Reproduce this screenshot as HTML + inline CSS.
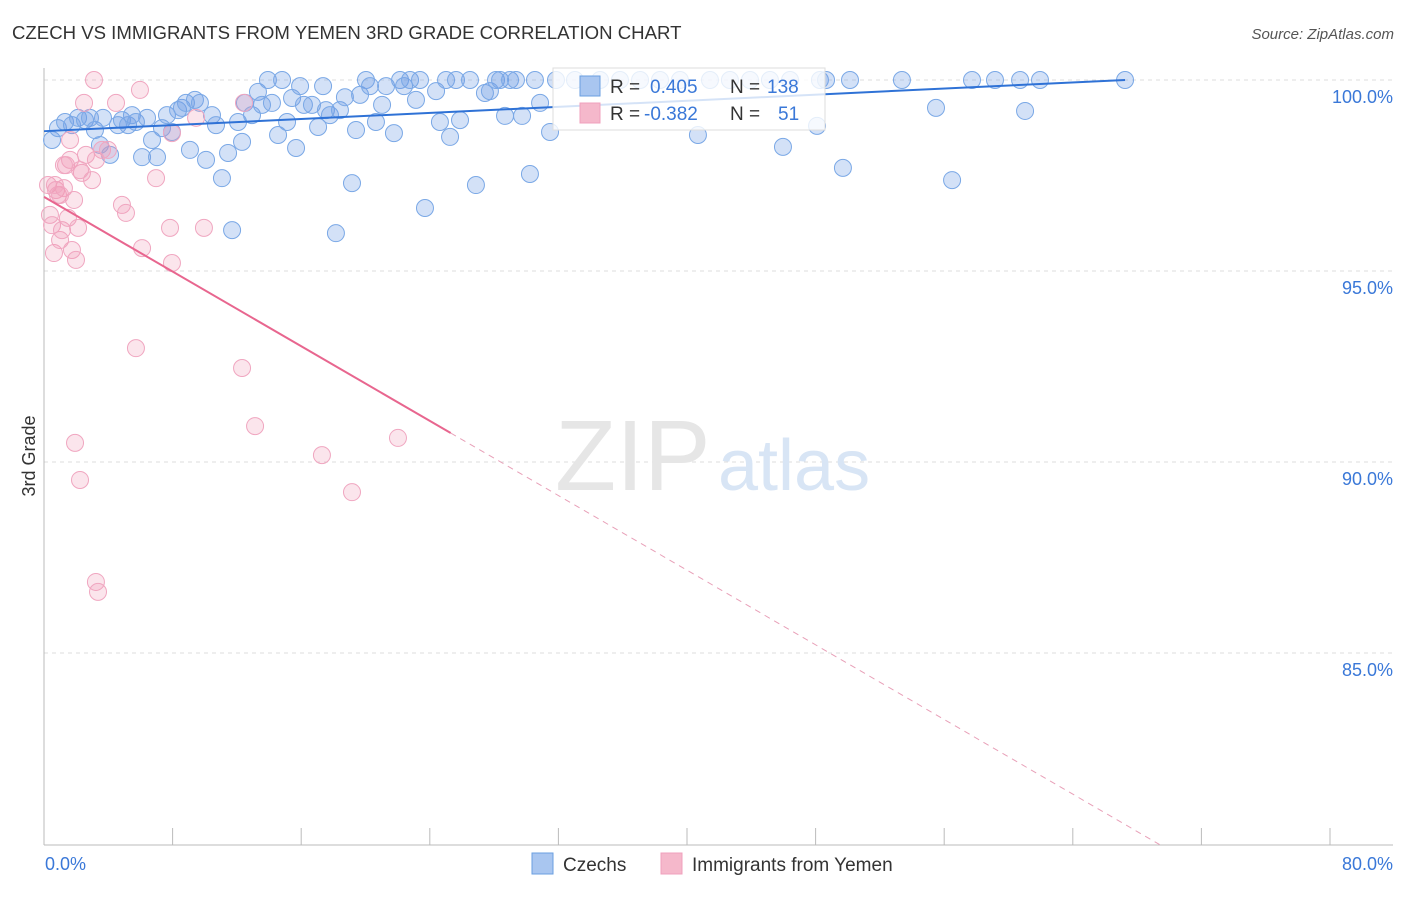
<!DOCTYPE html>
<html><head><meta charset="utf-8"><style>
body{margin:0;background:#fff;font-family:"Liberation Sans",sans-serif;}
svg text{font-family:"Liberation Sans",sans-serif;}
</style></head><body>
<svg width="1406" height="892">
<text x="12" y="39" font-size="18.6" fill="#333">CZECH VS IMMIGRANTS FROM YEMEN 3RD GRADE CORRELATION CHART</text>
<text x="1394" y="39" font-size="15" fill="#555" font-style="italic" text-anchor="end">Source: ZipAtlas.com</text>
<text x="35" y="456" font-size="18" fill="#333" transform="rotate(-90 35 456)" text-anchor="middle">3rd Grade</text>
<g id="grid"></g>
<text x="555" y="490" font-size="100" fill="#e6e6e6" font-family="Liberation Serif">ZIP</text>
<text x="718" y="490" font-size="72" fill="#d8e5f5">atlas</text>
<g id="pts"></g>
<g id="lines"></g>
<g>
<rect x="553" y="68" width="272" height="62" fill="#fff" fill-opacity="0.8" stroke="#ddd"/>
<rect x="580" y="76" width="20" height="20" fill="#a9c6f0" stroke="#6a9fe0"/>
<rect x="580" y="103" width="20" height="20" fill="#f5b8cb" stroke="#f0a0bc"/>
<text x="610" y="93" font-size="19" fill="#333">R = </text><text x="650" y="93" font-size="19" fill="#3a78d8">0.405</text>
<text x="730" y="93" font-size="19" fill="#333">N = </text><text x="767" y="93" font-size="19" fill="#3a78d8">138</text>
<text x="610" y="120" font-size="19" fill="#333">R = </text><text x="644" y="120" font-size="19" fill="#3a78d8">-0.382</text>
<text x="730" y="120" font-size="19" fill="#333">N = </text><text x="778" y="120" font-size="19" fill="#3a78d8">51</text>
</g>
<g>
<rect x="532" y="853" width="21" height="21" fill="#a9c6f0" stroke="#6a9fe0"/>
<text x="563" y="871" font-size="19" fill="#333">Czechs</text>
<rect x="661" y="853" width="21" height="21" fill="#f5b8cb" stroke="#f0a0bc"/>
<text x="692" y="871" font-size="19" fill="#333">Immigrants from Yemen</text>
</g>
</svg>
<script>
const yTicks=[100,95,90,85];
const xTickLabels=["0.0%","80.0%"];
const bluePx=[[52,140],[58,128],[65,122],[72,125],[78,118],[85,120],[90,118],[95,130],[100,145],[103,118],[110,155],[118,125],[122,120],[128,125],[132,115],[136,122],[142,157],[147,118],[152,140],[157,157],[162,128],[167,115],[172,132],[178,110],[182,108],[186,103],[190,150],[195,100],[200,103],[206,160],[212,115],[216,125],[222,178],[228,153],[232,230],[238,122],[242,142],[245,103],[252,115],[258,92],[262,105],[268,80],[272,103],[278,135],[282,80],[287,122],[292,98],[296,148],[300,86],[304,105],[312,105],[318,127],[323,86],[326,110],[330,115],[336,233],[340,110],[345,97],[352,183],[356,130],[360,95],[366,80],[370,86],[376,122],[382,105],[386,86],[394,133],[400,80],[404,86],[410,80],[416,100],[420,80],[425,208],[436,91],[440,122],[446,80],[450,137],[456,80],[460,120],[470,80],[476,185],[485,93],[490,91],[496,80],[500,80],[505,116],[510,80],[516,80],[522,116],[530,174],[535,80],[540,103],[550,132],[556,80],[575,80],[600,80],[620,80],[640,80],[660,80],[680,80],[698,135],[710,80],[730,80],[750,80],[770,80],[783,147],[790,80],[817,126],[820,80],[826,80],[843,168],[850,80],[902,80],[936,108],[952,180],[972,80],[995,80],[1020,80],[1025,111],[1040,80],[1125,80]];
const pinkPx=[[48,185],[50,215],[52,225],[54,253],[56,190],[58,195],[60,240],[62,230],[64,188],[66,165],[68,218],[70,160],[72,250],[74,200],[75,443],[76,260],[78,228],[80,480],[82,173],[84,103],[86,155],[92,180],[94,80],[96,582],[98,592],[102,150],[108,150],[116,103],[122,205],[126,213],[136,348],[140,90],[142,248],[156,178],[170,228],[172,263],[172,133],[196,118],[204,228],[242,368],[244,103],[255,426],[322,455],[352,492],[398,438],[60,195],[64,165],[70,140],[80,170],[96,160],[55,185]];
const czechX=bluePx.map(p=>+((p[0]-44)/16.075).toFixed(2));
const czechY=bluePx.map(p=>+(100-(p[1]-80)/38.2).toFixed(2));
const yemenX=pinkPx.map(p=>+((p[0]-44)/16.075).toFixed(2));
const yemenY=pinkPx.map(p=>+(100-(p[1]-80)/38.2).toFixed(2));
const czechLine=[98.66,100,0,67.25];
const yemenLine=[96.94,-0.2443,25.3,69.4];
const NS="http://www.w3.org/2000/svg";
const X=v=>44+v*16.075, Y=v=>80+(100-v)*38.2;
function mk(t,a,p){const e=document.createElementNS(NS,t);for(const k in a)e.setAttribute(k,a[k]);p.appendChild(e);return e;}
const g=document.getElementById('grid');
yTicks.forEach(v=>{
 const l=mk('line',{x1:44,x2:1393,y1:Y(v),y2:Y(v),stroke:'#ddd','stroke-dasharray':'4 4'},g);
 
 
 const t=mk('text',{x:1393,y:Y(v)+23,'font-size':18,fill:'#3a78d8','text-anchor':'end'},g);
 t.textContent=v.toFixed(1)+'%';
 
 
});
mk('line',{x1:44,x2:1393,y1:845,y2:845,stroke:'#bbb'},g);
mk('line',{x1:44,x2:44,y1:68,y2:845,stroke:'#bbb'},g);
for(let i=0;i<=10;i++){mk('line',{x1:X(i*8),x2:X(i*8),y1:828,y2:845,stroke:'#bbb'},g);}
[[0,'start',45],[80,'end',1393]].forEach((a,i)=>{const t=mk('text',{x:a[2],y:870,'font-size':18,fill:'#3a78d8','text-anchor':a[1]},g);t.textContent=xTickLabels[i];
 
 });
const pg=document.getElementById('pts');
czechX.forEach((x,i)=>{const c=mk('circle',{cx:X(x),cy:Y(czechY[i]),r:8.5,fill:'rgba(110,155,230,0.3)',stroke:'#7aa8e6','stroke-width':1},pg);
 
 });
yemenX.forEach((x,i)=>{const c=mk('circle',{cx:X(x),cy:Y(yemenY[i]),r:8.5,fill:'rgba(240,150,180,0.25)',stroke:'#f0a6c0','stroke-width':1},pg);
 
 });
const lg=document.getElementById('lines');
const fb=x=>czechLine[0]+(czechLine[1]-czechLine[0])*(x-czechLine[2])/(czechLine[3]-czechLine[2]);
let l1=mk('line',{x1:X(0),y1:Y(fb(0)),x2:X(67.25),y2:Y(fb(67.25)),stroke:'#2f72d6','stroke-width':2},lg);


const fp=x=>yemenLine[0]+yemenLine[1]*x;
let l2=mk('line',{x1:X(0),y1:Y(fp(0)),x2:X(yemenLine[2]),y2:Y(fp(yemenLine[2])),stroke:'#e8668f','stroke-width':2},lg);


let l3=mk('line',{x1:X(yemenLine[2]),y1:Y(fp(yemenLine[2])),x2:X(yemenLine[3]),y2:Y(fp(yemenLine[3])),stroke:'#e8a0b8','stroke-width':1,'stroke-dasharray':'6 5'},lg);


</script>
</body></html>
